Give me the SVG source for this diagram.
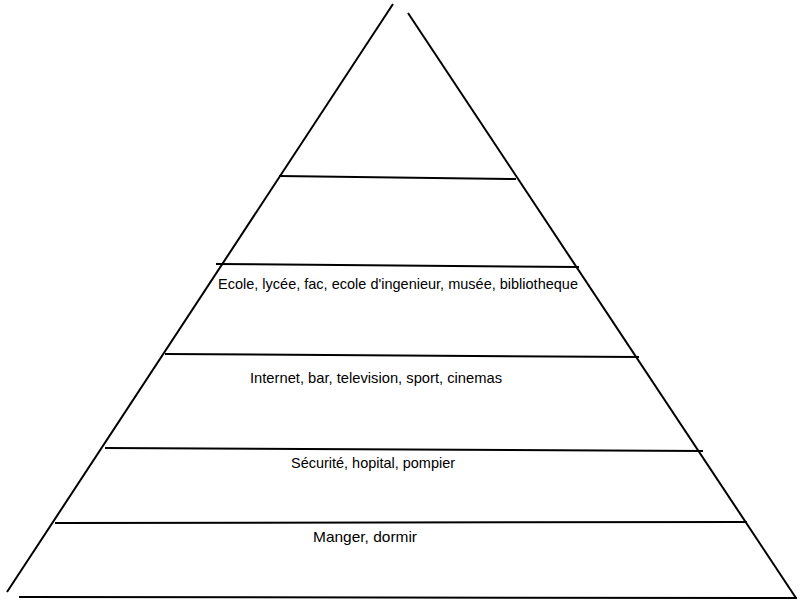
<svg xmlns="http://www.w3.org/2000/svg" width="800" height="600" viewBox="0 0 800 600">
<style>
.l{stroke:#000;stroke-width:2;fill:none;stroke-linecap:butt}
.t{font-family:"Liberation Sans","Open Sans",sans-serif;font-size:15px;fill:#000}
</style>
<rect width="800" height="600" fill="#fff"/>
<g id="pyramid">
<line class="l" x1="393" y1="4" x2="7" y2="592"/>
<line class="l" x1="408" y1="13" x2="796" y2="598"/>
<line class="l" x1="19" y1="597" x2="797" y2="598"/>
</g>
<g id="levels">
<line class="l" x1="279" y1="176" x2="516" y2="179"/>
<line class="l" x1="216" y1="264" x2="579" y2="267"/>
<line class="l" x1="165" y1="354" x2="639" y2="357"/>
<line class="l" x1="105" y1="448" x2="703" y2="451"/>
<line class="l" x1="55" y1="523" x2="747" y2="522"/>
</g>
<g id="labels">
<text class="t" x="218" y="289" textLength="360" lengthAdjust="spacingAndGlyphs">Ecole, lycée, fac, ecole d'ingenieur, musée, bibliotheque</text>
<text class="t" x="250" y="383" textLength="252" lengthAdjust="spacingAndGlyphs">Internet, bar, television, sport, cinemas</text>
<text class="t" x="291" y="468" textLength="164" lengthAdjust="spacingAndGlyphs">Sécurité, hopital, pompier</text>
<text class="t" x="313" y="542" textLength="104" lengthAdjust="spacingAndGlyphs">Manger, dormir</text>
</g>
</svg>
